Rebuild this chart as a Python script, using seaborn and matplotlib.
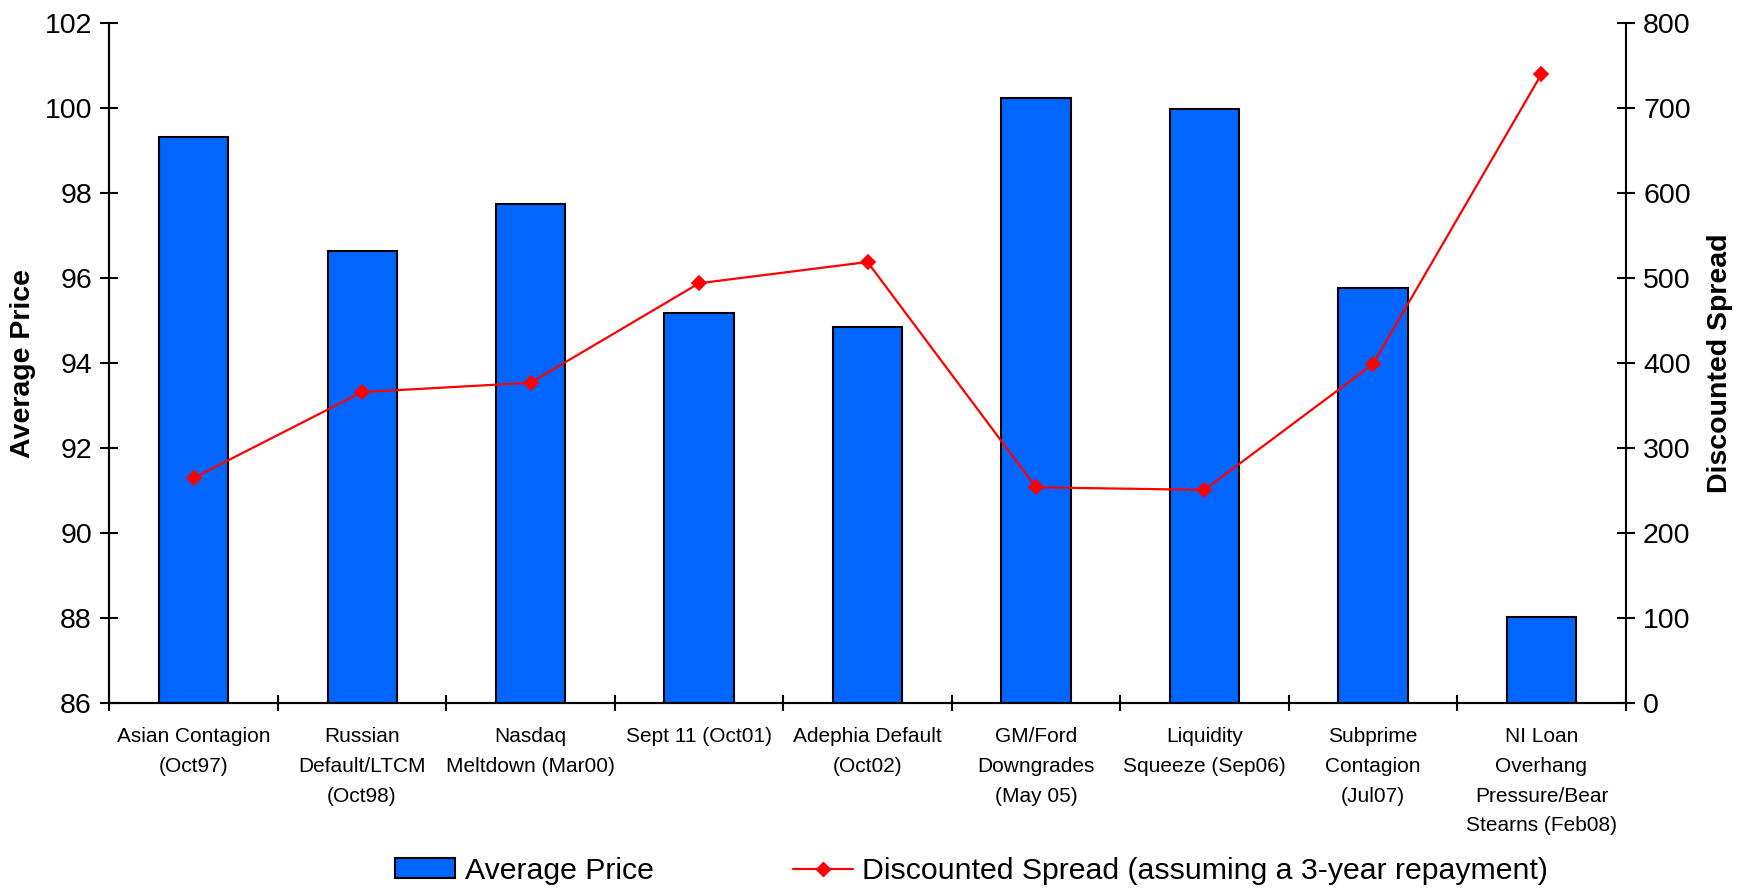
import numpy as np
import pandas as pd
import seaborn as sns
import matplotlib.pyplot as plt
from matplotlib.patches import Patch
from matplotlib.lines import Line2D

# Data
events = [
    "Asian Contagion\n(Oct97)",
    "Russian\nDefault/LTCM\n(Oct98)",
    "Nasdaq\nMeltdown (Mar00)",
    "Sept 11 (Oct01)",
    "Adephia Default\n(Oct02)",
    "GM/Ford\nDowngrades\n(May 05)",
    "Liquidity\nSqueeze (Sep06)",
    "Subprime\nContagion\n(Jul07)",
    "NI Loan\nOverhang\nPressure/Bear\nStearns (Feb08)",
]
avg_price = [99.32, 96.64, 97.74, 95.17, 94.85, 100.24, 99.98, 95.77, 88.02]
disc_spread = [265, 366, 377, 494, 519, 254, 251, 399, 740]

price_ticks = [86, 88, 90, 92, 94, 96, 98, 100, 102]
spread_ticks = [0, 100, 200, 300, 400, 500, 600, 700, 800]

df = pd.DataFrame({"event": events, "price": avg_price, "spread": disc_spread})

sns.set_theme(style="white")
plt.rcParams["font.family"] = ["Liberation Sans", "DejaVu Sans"]
plt.rcParams["text.color"] = "black"
plt.rcParams["axes.labelcolor"] = "black"
plt.rcParams["xtick.color"] = "black"
plt.rcParams["ytick.color"] = "black"

bar_color = "#0066FF"
line_color = "#FF0000"

fig = plt.figure(figsize=(17.49, 8.88), dpi=100)
ax = fig.add_axes([0.0625, 0.208, 0.867, 0.766])

sns.barplot(data=df, x="event", y="price", ax=ax, color=bar_color,
            width=0.41, edgecolor="black", linewidth=1.5, saturation=1)
ax.set_ylim(86, 102)
ax.set_xlim(-0.5, len(events) - 0.5)

ax2 = ax.twinx()
sns.pointplot(data=df, x="event", y="spread", ax=ax2, color=line_color,
              markers="D", markersize=7, linewidth=1.6)
ax2.set_ylim(0, 800)
ax2.set_xlim(-0.5, len(events) - 0.5)

# y axes
ax.set_yticks(price_ticks)
ax.set_yticklabels([str(t) for t in price_ticks], fontsize=20.5)
ax2.set_yticks(spread_ticks)
ax2.set_yticklabels([str(t) for t in spread_ticks], fontsize=20.5)
ax.set_ylabel("Average Price", fontsize=20.5, fontweight="bold", labelpad=6)
ax2.set_ylabel("Discounted Spread", fontsize=20.5, fontweight="bold", labelpad=12)
ax.tick_params(axis="y", direction="inout", length=13, width=1.5, pad=6,
               left=True)
ax2.tick_params(axis="y", direction="inout", length=13, width=1.5, pad=6,
                right=True)

# x axis: tick marks between categories, labels at centers
ax.set_xlabel("")
ax2.set_xlabel("")
n = len(events)
ax.set_xticks(np.arange(-0.5, n, 1.0))
ax.set_xticklabels([""] * (n + 1))
ax.set_xticks(np.arange(n), minor=True)
ax.set_xticklabels(events, minor=True, fontsize=15, linespacing=1.72,
                   va="top")
ax.tick_params(axis="x", which="major", direction="inout", length=12,
               width=1.5, bottom=True)
ax.tick_params(axis="x", which="minor", length=0, pad=17, bottom=True)
ax2.tick_params(axis="x", which="both", length=0, labelbottom=False)

for a in (ax, ax2):
    a.spines["top"].set_visible(False)
    for s in ("left", "right", "bottom"):
        a.spines[s].set_color("black")
        a.spines[s].set_linewidth(1.5)
    a.grid(False)
ax.spines["right"].set_visible(False)

# legend
handles = [
    Patch(facecolor=bar_color, edgecolor="black", linewidth=1.5),
    Line2D([0], [0], color=line_color, marker="D", markersize=7, linewidth=1.6),
]
labels = ["Average Price", "Discounted Spread (assuming a 3-year repayment)"]
fig.legend(handles, labels, loc="lower center", bbox_to_anchor=(0.5555, -0.027),
           ncol=2, frameon=False, fontsize=21.8, handlelength=2.0,
           handleheight=0.6, columnspacing=4.6, handletextpad=0.3)

fig.savefig("out.png", dpi=100)
